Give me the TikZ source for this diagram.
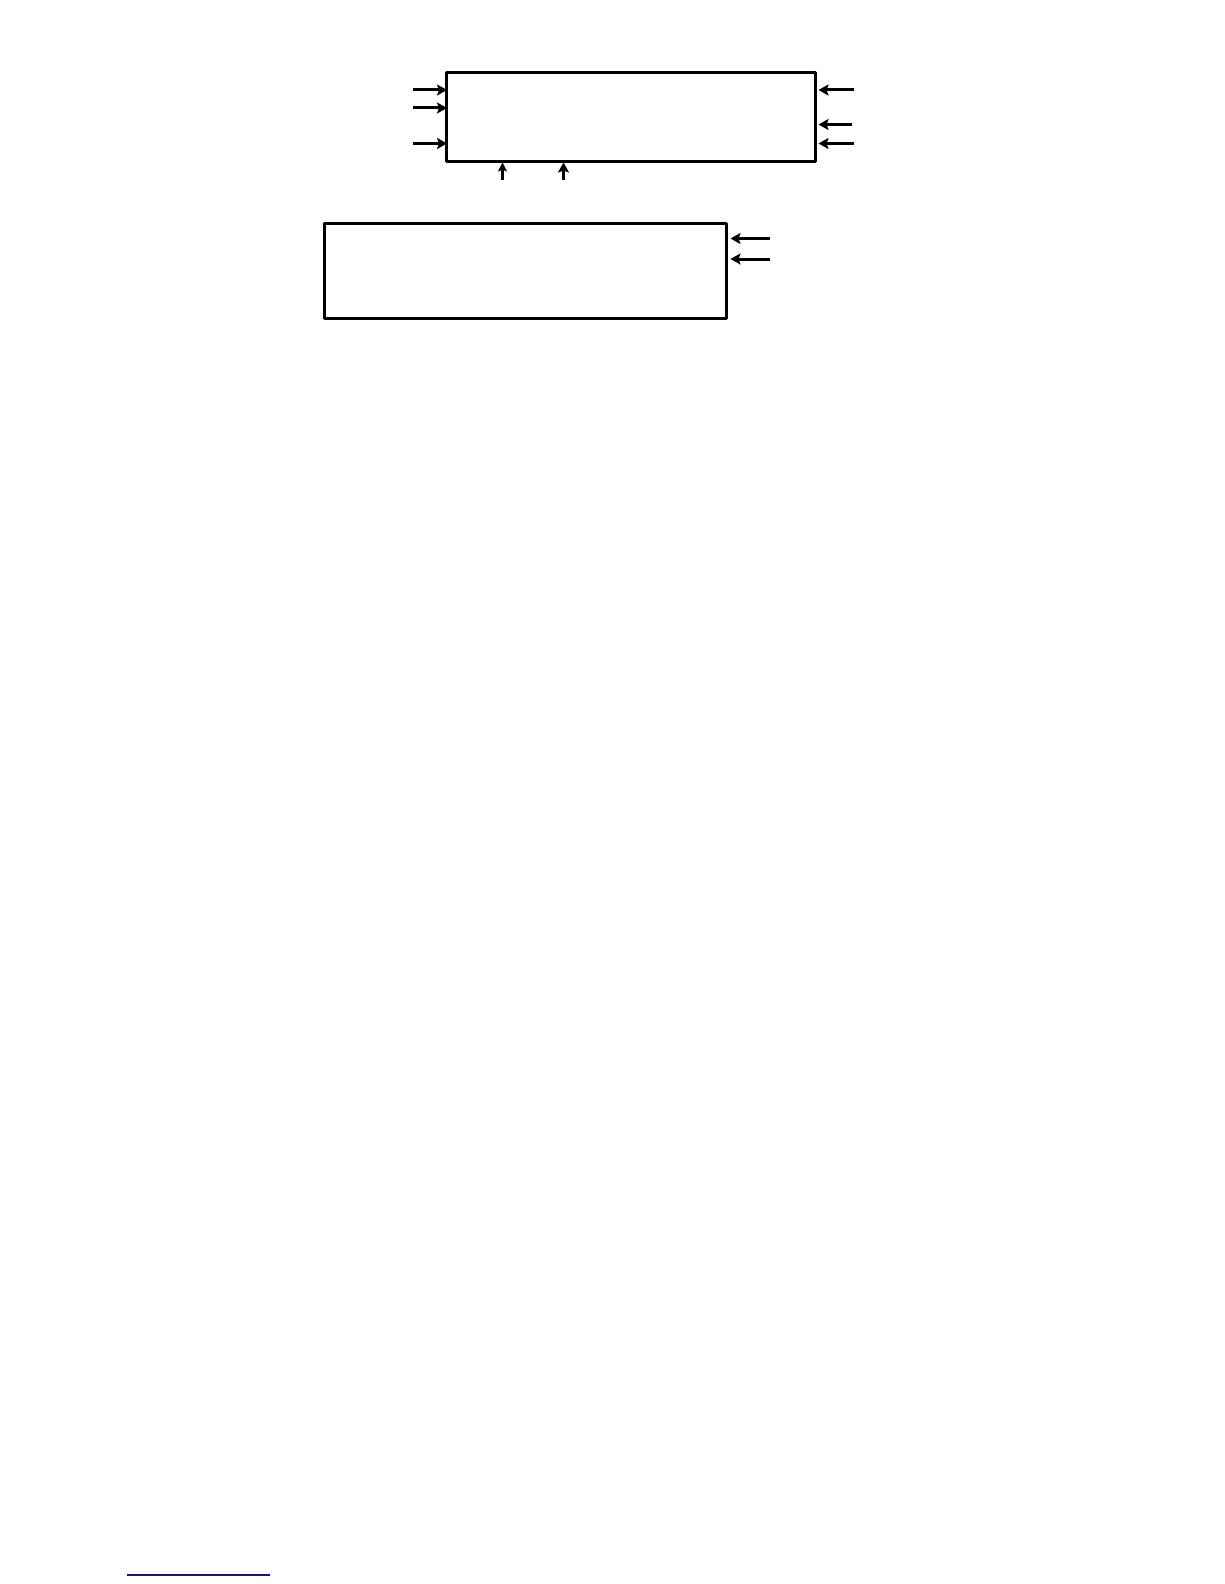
\documentclass[tikz,border=0pt]{standalone}
\usetikzlibrary{arrows.meta}
\begin{document}
\begin{tikzpicture}[x=1pt,y=-1pt,
  box/.style={draw=black,line width=3pt,line join=round},
  arr/.style={draw=black,line width=3pt,-{Stealth[length=10pt,width=11pt,inset=2pt]}},
  thin arr/.style={draw=black,line width=2.2pt,-{Stealth[length=9pt,width=9pt,inset=2pt]}}]
\useasboundingbox[fill=white] (0,0) rectangle (1224,1584);
% box 1
\coordinate (b1nw) at (446.5,72.5);
\coordinate (b1se) at (815,161.5);
\draw[box] (b1nw) rectangle (b1se);
% left inputs of box 1
\coordinate (l1s) at (413,90);    \coordinate (l1e) at (447,90);
\coordinate (l2s) at (413,108);   \coordinate (l2e) at (447,108);
\coordinate (l3s) at (413,143.5); \coordinate (l3e) at (447,143.5);
\draw[arr] (l1s) -- (l1e);
\draw[arr] (l2s) -- (l2e);
\draw[arr] (l3s) -- (l3e);
% right inputs of box 1
\coordinate (r1s) at (854,90);    \coordinate (r1e) at (818.5,90);
\coordinate (r2s) at (852,124.5); \coordinate (r2e) at (818.5,124.5);
\coordinate (r3s) at (854,143.5); \coordinate (r3e) at (818.5,143.5);
\draw[arr] (r1s) -- (r1e);
\draw[arr] (r2s) -- (r2e);
\draw[arr] (r3s) -- (r3e);
% bottom inputs of box 1
\coordinate (d1s) at (502.5,179.5); \coordinate (d1e) at (502.5,162.5);
\coordinate (d2s) at (563.5,179.5); \coordinate (d2e) at (563.5,162.5);
\draw[thin arr] (d1s) -- (d1e);
\draw[arr] (d2s) -- (d2e);
% box 2
\coordinate (b2nw) at (324.5,223.5);
\coordinate (b2se) at (726.5,318.5);
\draw[box] (b2nw) rectangle (b2se);
\coordinate (s1s) at (770,238.5); \coordinate (s1e) at (730.5,238.5);
\coordinate (s2s) at (770,259);   \coordinate (s2e) at (730.5,259);
\draw[arr] (s1s) -- (s1e);
\draw[arr] (s2s) -- (s2e);
% footnote rule
\coordinate (fa) at (127,1575);
\coordinate (fb) at (269.5,1575);
\draw[draw={rgb,255:red,20;green,20;blue,140},line width=1.3pt] (fa) -- (fb);
\end{tikzpicture}
\end{document}
